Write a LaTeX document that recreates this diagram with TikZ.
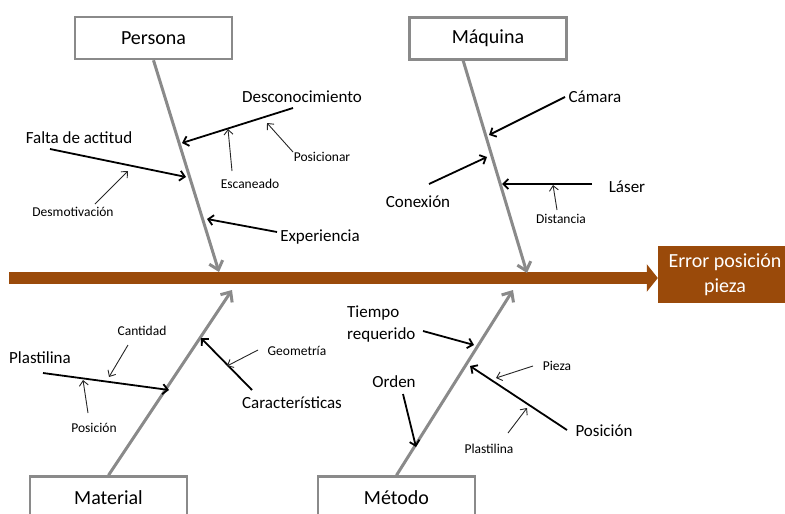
\documentclass[tikz,border=0pt]{standalone}
\usepackage{fontspec}
\setmainfont{Carlito}
\usetikzlibrary{arrows.meta}
\definecolor{spinebrown}{HTML}{9A4A0A}
\definecolor{bonegray}{HTML}{8A8A8A}
\begin{document}
\begin{tikzpicture}[x=1pt,y=-1pt,
  catbox/.style={draw=bonegray, line width=2.5pt, fill=white, minimum width=157pt,
    minimum height=42pt, inner sep=0pt, font=\fontsize{20}{24}\selectfont},
  effect/.style={fill=spinebrown, text=white, minimum width=134pt, minimum height=57pt,
    inner sep=0pt, align=center, font=\fontsize{20}{25}\selectfont},
  spine/.style={draw=spinebrown, line width=12pt, -{Triangle[length=11pt,width=27pt]}},
  bone/.style={draw=bonegray, line width=3pt, -{Straight Barb[length=8pt,width=14pt,line width=3pt]}},
  cause/.style={draw=black, line width=1.8pt, -{Straight Barb[length=5pt,width=10pt,line width=1.8pt]}},
  subcause/.style={draw=black!85, line width=0.9pt, -{Straight Barb[length=5pt,width=9pt,line width=0.9pt]}},
  lbl/.style={inner sep=0pt, font=\fontsize{17}{21}\selectfont},
  sml/.style={inner sep=0pt, text=black, font=\fontsize{13.5}{16}\selectfont}]
\useasboundingbox (0,0) rectangle (785,514);
\clip (0,0) rectangle (785,514);

% effect and spine
\node[effect] (err) at (725,274.5) {Error posición\\pieza};
\coordinate (sStart) at (9,278);
\draw[spine] (sStart) -- (err.west |- sStart);

% category boxes
\node[catbox] (persona) at (153.5,38) {Persona};
\node[catbox] (maquina) at (488,38.5) {Máquina};
\node[catbox] (material) at (108.5,497.5) {Material};
\node[catbox] (metodo) at (396.5,497.5) {Método};

% main bones
\coordinate (pTip) at (219,272);
\coordinate (qStart) at (463,60);
\coordinate (qTip) at (527,273);
\coordinate (mTip) at (232,290);
\coordinate (tTip) at (513,290);
\draw[bone] (persona.south) -- (pTip);
\draw[bone] (qStart) -- (qTip);
\draw[bone] (material.north) -- (mTip);
\draw[bone] (metodo.north) -- (tTip);

% ---- Persona ----
\node[lbl] (desc) at (302,97) {Desconocimiento};
\coordinate (descA) at (293,108); \coordinate (descB) at (182,143);
\draw[cause] (descA) -- (descB);
\node[sml] (esc) at (250,184) {Escaneado};
\coordinate (escA) at (232,171); \coordinate (escB) at (228,129);
\draw[subcause] (escA) -- (escB);
\node[sml] (posic) at (322,157) {Posicionar};
\coordinate (posicA) at (293,152); \coordinate (posicB) at (267,123);
\draw[subcause] (posicA) -- (posicB);
\node[lbl] (falta) at (79,138) {Falta de actitud};
\coordinate (faltaA) at (50,149); \coordinate (faltaB) at (186,177);
\draw[cause] (faltaA) -- (faltaB);
\node[sml] (desmo) at (73,212) {Desmotivación};
\coordinate (desmoA) at (95,204); \coordinate (desmoB) at (128,171);
\draw[subcause] (desmoA) -- (desmoB);
\node[lbl] (exper) at (320,237) {Experiencia};
\coordinate (experA) at (277,232); \coordinate (experB) at (207,219);
\draw[cause] (experA) -- (experB);

% ---- Máquina ----
\node[lbl] (cam) at (595,97) {Cámara};
\coordinate (camA) at (565,97); \coordinate (camB) at (489,135);
\draw[cause] (camA) -- (camB);
\node[lbl] (conex) at (418,202) {Conexión};
\coordinate (conexA) at (429,184); \coordinate (conexB) at (487,157);
\draw[cause] (conexA) -- (conexB);
\node[lbl] (laser) at (627,187) {Láser};
\coordinate (laserA) at (592,184); \coordinate (laserB) at (502,184);
\draw[cause] (laserA) -- (laserB);
\node[sml] (dist) at (561,219) {Distancia};
\coordinate (distA) at (557,210); \coordinate (distB) at (553,185);
\draw[subcause] (distA) -- (distB);

% ---- Material ----
\node[lbl] (plast) at (40,358) {Plastilina};
\coordinate (plastA) at (43,373); \coordinate (plastB) at (169,390);
\draw[cause] (plastA) -- (plastB);
\node[sml] (cant) at (142,331) {Cantidad};
\coordinate (cantA) at (128,345); \coordinate (cantB) at (109,377);
\draw[subcause] (cantA) -- (cantB);
\node[sml] (posm) at (94,428) {Posición};
\coordinate (posmA) at (88,413); \coordinate (posmB) at (83,380);
\draw[subcause] (posmA) -- (posmB);
\node[lbl] (carac) at (292,403) {Características};
\coordinate (caracA) at (252,390); \coordinate (caracB) at (201,338);
\draw[cause] (caracA) -- (caracB);
\node[sml] (geom) at (297,351) {Geometría};
\coordinate (geomA) at (258,350); \coordinate (geomB) at (227,366);
\draw[subcause] (geomA) -- (geomB);

% ---- Método ----
\node[lbl, anchor=west, align=left, font=\fontsize{17}{22}\selectfont] (tiempo) at (347,324) {Tiempo\\requerido};
\coordinate (tiempoA) at (423,331); \coordinate (tiempoB) at (474,345);
\draw[cause] (tiempoA) -- (tiempoB);
\node[lbl] (orden) at (394,382) {Orden};
\coordinate (ordenA) at (403,394); \coordinate (ordenB) at (416,447);
\draw[cause] (ordenA) -- (ordenB);
\node[lbl] (posme) at (604,431) {Posición};
\coordinate (posmeA) at (567,430); \coordinate (posmeB) at (470,366);
\draw[cause] (posmeA) -- (posmeB);
\node[sml] (pieza) at (557,366) {Pieza};
\coordinate (piezaA) at (533,366); \coordinate (piezaB) at (496,378);
\draw[subcause] (piezaA) -- (piezaB);
\node[sml] (plastme) at (489,449) {Plastilina};
\coordinate (plastmeA) at (508,433); \coordinate (plastmeB) at (527,408);
\draw[subcause] (plastmeA) -- (plastmeB);
\end{tikzpicture}
\end{document}
